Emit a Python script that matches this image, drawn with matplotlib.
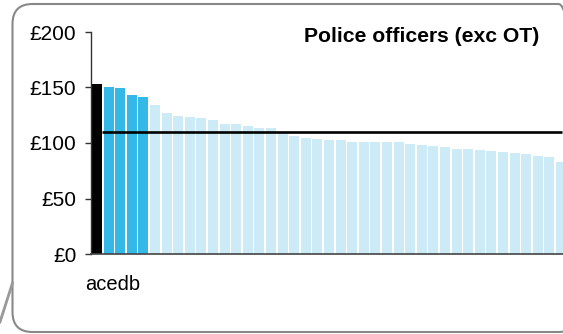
import matplotlib
matplotlib.use("Agg")
import matplotlib.pyplot as plt
from matplotlib.patches import FancyBboxPatch
from matplotlib.lines import Line2D
from matplotlib.transforms import IdentityTransform

# ---- data ----
values = [152.9, 150.2, 149.3, 143.0, 141.2, 134.0, 126.8, 124.1, 123.2, 122.3,
          120.5, 116.9, 116.9, 115.1, 113.3, 113.3, 108.6, 106.1, 104.3, 103.4,
          102.5, 102.5, 100.7, 100.7, 100.7, 100.7, 100.7, 98.9, 98.0, 97.1,
          96.2, 94.4, 94.4, 93.5, 92.6, 91.7, 90.8, 89.9, 88.1, 87.3, 82.8]
n_dark = 1
n_mid = 4
average = 109.7
yticks = [0, 50, 100, 150, 200]
ytick_labels = ["£0", "£50", "£100", "£150", "£200"]
title = "Police officers (exc OT)"
xlabel = "acedb"

C_DARK = "#000000"
C_MID = "#33b8e8"
C_LIGHT = "#cdeaf7"

plt.rcParams['font.family'] = ['Liberation Sans', 'DejaVu Sans']

W, H = 563, 334
fig = plt.figure(figsize=(W / 100, H / 100), dpi=100)

# axes geometry in pixels
ax_left, ax_right = 91, 563
ax_top, ax_bottom = 32, 254
ax = fig.add_axes([ax_left / W, (H - ax_bottom) / H,
                   (ax_right - ax_left) / W, (ax_bottom - ax_top) / H])

colors = [C_DARK] * n_dark + [C_MID] * n_mid + [C_LIGHT] * (len(values) - n_dark - n_mid)
x = list(range(len(values)))
ax.bar(x, values, width=0.86, color=colors, linewidth=0, zorder=2)
ax.hlines(average, 0.43, 40.05, colors="black", linewidth=1.9, zorder=3)

ax.set_xlim(-0.52, 40.17)
ax.set_ylim(0, 200)
ax.set_yticks(yticks)
ax.set_yticklabels(ytick_labels, fontsize=15)
ax.set_xticks([])
for s in ["top", "right"]:
    ax.spines[s].set_visible(False)
ax.spines["left"].set_color("#333333")
ax.spines["left"].set_linewidth(1.0)
ax.spines["bottom"].set_color("#444444")
ax.spines["bottom"].set_linewidth(1.2)
ax.tick_params(axis="y", length=4.5, width=1.0, color="#333333", pad=6, labelcolor="black")
ax.patch.set_alpha(0)

fig.text(539 / W, (H - 37) / H, title, fontsize=15.2, fontweight="bold",
         ha="right", va="center")
fig.text(85 / W, (H - 285) / H, xlabel, fontsize=14.5, ha="left", va="center")

# rounded frame (pixel coords)
frame = FancyBboxPatch((12.5, H - 332), 566, 328,
                       boxstyle="round,pad=0,rounding_size=20",
                       transform=IdentityTransform(), facecolor="none",
                       edgecolor="#888888", linewidth=1.5, zorder=0)
fig.add_artist(frame)
tail = Line2D([0, 12.5], [H - 322, H - 283], transform=IdentityTransform(),
              color="#999999", linewidth=2)
fig.add_artist(tail)

fig.savefig("out.png", dpi=100)
